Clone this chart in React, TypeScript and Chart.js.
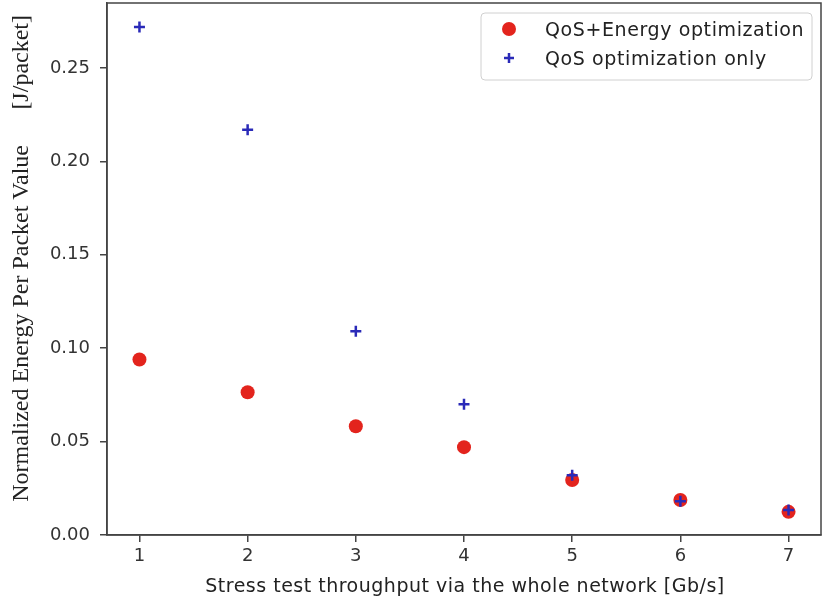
import React, { useEffect, useRef } from "react";
import { Chart, registerables } from "chart.js";

Chart.register(...registerables);

const throughput = [1, 2, 3, 4, 5, 6, 7];
const qosEnergy = [0.0939, 0.0764, 0.0582, 0.047, 0.0294, 0.0187, 0.0124];
const qosOnly = [0.2719, 0.2169, 0.1091, 0.07, 0.032, 0.018, 0.0134];
const xTicks = [1, 2, 3, 4, 5, 6, 7];
const yTicks = [0, 0.05, 0.1, 0.15, 0.2, 0.25];
const seriesNames = ["QoS+Energy optimization", "QoS optimization only"];
const xTitle = "Stress test throughput via the whole network [Gb/s]";
const yTitleMain = "Normalized Energy Per Packet Value";
const yTitleUnit = "[J/packet]";

const RED = "#e3241d";
const BLUE = "#2a2ab8";
const AXIS = "#444444";
const TICKFONT = "'DejaVu Sans', sans-serif";

export default function App() {
  const ref = useRef<HTMLCanvasElement | null>(null);

  useEffect(() => {
    if (!ref.current) return;
    const extras = {
      id: "extras",
      afterDraw(chart: any) {
        const ctx = chart.ctx;
        const a = chart.chartArea;
        ctx.save();
        // frame
        ctx.strokeStyle = AXIS;
        ctx.lineWidth = 1.5;
        ctx.strokeRect(a.left, a.top, a.right - a.left, a.bottom - a.top);
        // y title
        ctx.fillStyle = "#222";
        ctx.font = "24px 'Liberation Serif', serif";
        ctx.textBaseline = "middle";
        ctx.translate(22, 0);
        ctx.rotate(-Math.PI / 2);
        ctx.textAlign = "right";
        ctx.fillText(yTitleMain, -145, 0);
        ctx.fillText(yTitleUnit, -15, 0);
        ctx.restore();

        // x title
        ctx.save();
        ctx.fillStyle = "#222";
        ctx.font = "19px " + TICKFONT;
        (ctx as any).letterSpacing = "0.5px";
        ctx.textAlign = "center";
        ctx.textBaseline = "alphabetic";
        ctx.fillText(xTitle, 465, 592);
        ctx.restore();

        // legend
        ctx.save();
        const bx = 481, by = 13, bw = 331, bh = 67, r = 4;
        ctx.beginPath();
        ctx.moveTo(bx + r, by);
        ctx.arcTo(bx + bw, by, bx + bw, by + bh, r);
        ctx.arcTo(bx + bw, by + bh, bx, by + bh, r);
        ctx.arcTo(bx, by + bh, bx, by, r);
        ctx.arcTo(bx, by, bx + bw, by, r);
        ctx.closePath();
        ctx.fillStyle = "rgba(255,255,255,0.85)";
        ctx.fill();
        ctx.strokeStyle = "#d0d0d0";
        ctx.lineWidth = 1;
        ctx.stroke();
        ctx.fillStyle = RED;
        ctx.beginPath();
        ctx.arc(509, 29, 7, 0, Math.PI * 2);
        ctx.fill();
        ctx.strokeStyle = BLUE;
        ctx.lineWidth = 2.5;
        ctx.beginPath();
        ctx.moveTo(504, 58);
        ctx.lineTo(514, 58);
        ctx.moveTo(509, 53);
        ctx.lineTo(509, 63);
        ctx.stroke();
        ctx.fillStyle = "#222";
        ctx.font = "19px " + TICKFONT;
        (ctx as any).letterSpacing = "0.6px";
        ctx.textAlign = "left";
        ctx.textBaseline = "alphabetic";
        ctx.fillText(seriesNames[0], 545, 36);
        ctx.fillText(seriesNames[1], 545, 65);
        ctx.restore();
      },
    };

    const zeroPad = (s: any) => {
      s.paddingTop = 0;
      s.paddingBottom = 0;
      s.paddingLeft = 0;
      s.paddingRight = 0;
    };

    const chart = new Chart(ref.current, {
      type: "scatter",
      data: {
        datasets: [
          {
            label: seriesNames[0],
            data: throughput.map((x, i) => ({ x, y: qosEnergy[i] })),
            backgroundColor: RED,
            borderColor: RED,
            pointRadius: 7,
            pointStyle: "circle",
            borderWidth: 0,
            order: 2,
          },
          {
            label: seriesNames[1],
            data: throughput.map((x, i) => ({ x, y: qosOnly[i] })),
            backgroundColor: BLUE,
            borderColor: BLUE,
            pointRadius: 5.5,
            pointStyle: "cross",
            borderWidth: 2.5,
            order: 1,
          },
        ],
      },
      options: {
        animation: false,
        responsive: false,
        maintainAspectRatio: false,
        layout: { autoPadding: false, padding: { top: 3, right: 1, left: 0, bottom: 0 } },
        plugins: {
          legend: { display: false },
          tooltip: { enabled: false },
          title: { display: false },
        },
        scales: {
          x: {
            type: "linear",
            min: 0.7,
            max: 7.3,
            afterBuildTicks: (s: any) => {
              s.ticks = xTicks.map((v) => ({ value: v }));
            },
            afterFit: (s: any) => {
              s.height = 70;
              zeroPad(s);
            },
            grid: {
              display: true,
              drawOnChartArea: false,
              drawTicks: true,
              tickLength: 7,
              color: AXIS,
              lineWidth: 1.5,
            },
            border: { display: true, color: AXIS, width: 1.5 },
            ticks: {
              color: "#333",
              font: { family: TICKFONT, size: 18 },
              padding: 4,
              callback: (v: any) => String(v),
            },
          },
          y: {
            type: "linear",
            min: 0,
            max: 0.2847,
            afterBuildTicks: (s: any) => {
              s.ticks = yTicks.map((v) => ({ value: v }));
            },
            afterFit: (s: any) => {
              s.width = 107;
              zeroPad(s);
            },
            grid: {
              display: true,
              drawOnChartArea: false,
              drawTicks: true,
              tickLength: 7,
              color: AXIS,
              lineWidth: 1.5,
            },
            border: { display: true, color: AXIS, width: 1.5 },
            ticks: {
              color: "#333",
              font: { family: TICKFONT, size: 18 },
              padding: 10,
              callback: (v: any) => Number(v).toFixed(2),
            },
          },
        },
      },
      plugins: [extras],
    });
    return () => chart.destroy();
  }, []);

  return (
    <div
      style={{
        position: "fixed",
        left: 0,
        top: 0,
        width: 822,
        height: 605,
        background: "#fff",
      }}
    >
      <canvas ref={ref} width={822} height={605} style={{ display: "block" }} />
    </div>
  );
}
